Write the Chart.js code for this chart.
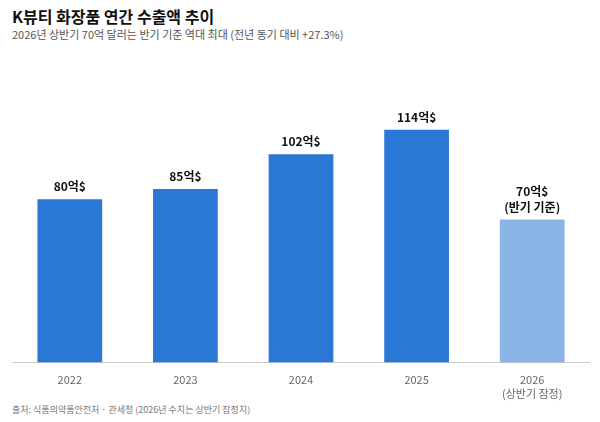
<!DOCTYPE html>
<html><head><meta charset="utf-8">
<script src="https://cdn.jsdelivr.net/npm/chart.js@4"></script>
<style>
body{margin:0;width:600px;height:422px;background:#fff;font-family:"Noto Sans CJK KR","Noto Sans",sans-serif;position:relative;overflow:hidden}
#t{position:absolute;left:12px;top:4px;font-size:16px;font-weight:700;color:#111}
#s{position:absolute;left:12px;top:26px;font-size:11px;color:#555}
#src{position:absolute;left:12px;top:403px;font-size:9px;color:#777}
#wrap{position:absolute;left:12px;top:50px;width:578px;height:353px}
</style></head><body>
<div id="t">K뷰티 화장품 연간 수출액 추이</div>
<div id="s">2026년 상반기 70억 달러는 반기 기준 역대 최대 (전년 동기 대비 +27.3%)</div>
<div id="wrap"><canvas id="c"></canvas></div>
<div id="src">출처: 식품의약품안전처 · 관세청 (2026년 수치는 상반기 잠정치)</div>
<script>
const labels = ['2022', '2023', '2024', '2025', ['2026', '(상반기 잠정)']];
const values = [80, 85, 102, 114, 70];
const tops = ['80억$', '85억$', '102억$', '114억$', ['70억$', '(반기 기준)']];
const colors = ['#2a78d6', '#2a78d6', '#2a78d6', '#2a78d6', '#8ab4e6'];

const topLabels = {
    id: 'topLabels',
    afterDatasetsDraw(chart) {
        const ctx = chart.ctx;
        ctx.save();
        ctx.font = 'bold 12px "Noto Sans CJK KR"';
        ctx.fillStyle = '#111';
        ctx.textAlign = 'center';
        chart.getDatasetMeta(0).data.forEach((bar, i) => {
            let lines = [].concat(tops[i]);
            lines.forEach((l, j) => {
                ctx.fillText(l, bar.x, bar.y - 8 - (lines.length - 1 - j) * 16);
            });
        });
        ctx.restore();
    }
};

new Chart(document.getElementById('c'), {
    type: 'bar',
    data: { labels: labels, datasets: [{ data: values, backgroundColor: colors, barPercentage: 0.56, categoryPercentage: 1 }] },
    options: {
        responsive: true, maintainAspectRatio: false, animation: false,
        plugins: { legend: { display: false }, tooltip: { enabled: false } },
        scales: {
            y: { display: false, min: 0, max: 153 },
            x: {
                grid: { display: false },
                border: { color: '#ccc' },
                ticks: { color: '#666', font: { size: 11, family: '"Noto Sans CJK KR"' } }
            }
        }
    },
    plugins: [topLabels]
});
</script>
</body></html>
